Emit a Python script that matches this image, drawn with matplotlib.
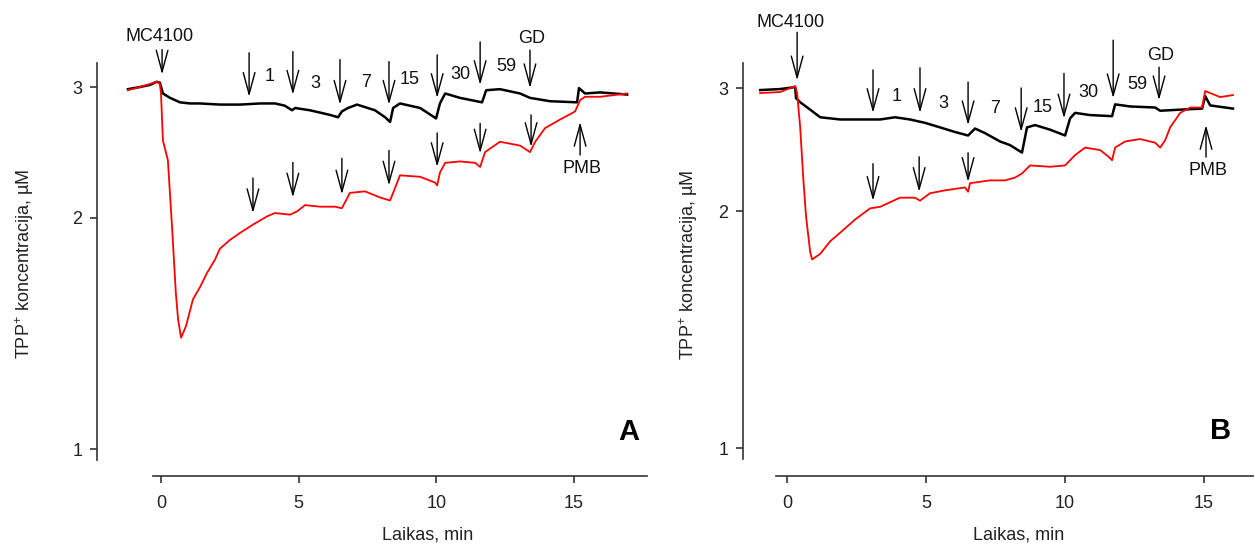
import numpy as np
import matplotlib
matplotlib.use("Agg")
import matplotlib.pyplot as plt
from matplotlib.ticker import FixedLocator, NullLocator

plt.rcParams['font.family'] = ['Liberation Sans', 'DejaVu Sans']
plt.rcParams['mathtext.fontset'] = 'custom'
plt.rcParams['mathtext.rm'] = 'Liberation Sans'
plt.rcParams['mathtext.it'] = 'Liberation Sans'

# ---------------- data: panel A ----------------
a_black_t = [-1.20, -0.76, -0.40, -0.15, -0.04, 0.07, 0.33, 0.69, 1.05, 1.42, 2.14, 2.87, 3.60, 4.14,
             4.50, 4.76, 4.87, 5.41, 6.14, 6.43, 6.57, 6.79, 7.12, 7.77, 8.14, 8.32, 8.43, 8.68, 9.41,
             9.99, 10.13, 10.32, 10.86, 11.66, 11.81, 12.31, 13.04, 13.40, 14.13, 15.11, 15.18, 15.40,
             15.95, 16.93]
a_black_v = [2.98, 3.00, 3.02, 3.05, 3.04, 2.94, 2.90, 2.86, 2.85, 2.85, 2.84, 2.84, 2.85, 2.85,
             2.83, 2.79, 2.81, 2.79, 2.75, 2.73, 2.78, 2.81, 2.84, 2.79, 2.73, 2.69, 2.81, 2.85, 2.81,
             2.72, 2.85, 2.94, 2.90, 2.86, 2.97, 2.98, 2.94, 2.90, 2.87, 2.86, 2.99, 2.94,
             2.95, 2.93]
a_red_t = [-1.20, -0.76, -0.15, -0.04, 0.00, 0.07, 0.25, 0.40, 0.54, 0.62, 0.73, 0.91, 1.16, 1.42,
           1.67, 1.96, 2.14, 2.51, 2.87, 3.35, 3.86, 4.14, 4.69, 4.94, 5.23, 5.78, 6.32, 6.57, 6.86,
           7.41, 7.95, 8.32, 8.43, 8.68, 9.41, 9.95, 10.03, 10.13, 10.32, 10.86, 11.41, 11.59, 11.77,
           12.31, 13.04, 13.40, 13.59, 13.95, 14.49, 15.04, 15.22, 15.40, 15.95, 16.93]
a_red_v = [2.97, 3.00, 3.05, 3.03, 2.94, 2.54, 2.39, 1.95, 1.59, 1.47, 1.39, 1.44, 1.56, 1.62,
           1.69, 1.76, 1.82, 1.87, 1.91, 1.96, 2.01, 2.03, 2.02, 2.04, 2.08, 2.07, 2.07, 2.06, 2.16,
           2.17, 2.13, 2.11, 2.16, 2.28, 2.27, 2.23, 2.21, 2.30, 2.37, 2.38, 2.37, 2.34, 2.45,
           2.53, 2.50, 2.45, 2.53, 2.64, 2.71, 2.78, 2.88, 2.91, 2.91, 2.94]

# arrows: (time, tip value, length px)
a_black_arrows_t = [3.20, 4.79, 6.50, 8.28, 10.03, 11.59]
a_black_arrows_v = [2.91, 2.93, 2.84, 2.84, 2.90, 3.02]
a_black_arrows_len = [44, 43, 45, 43, 43, 43]
a_dose_labels = ['1', '3', '7', '15', '30', '59']
a_dose_dx = [21, 22, 26, 21, 23, 26]
a_dose_dy = [20, 11, 22, 25, 23, 18]
a_red_arrows_t = [3.34, 4.79, 6.57, 8.28, 10.03, 11.59, 13.44]
a_red_arrows_v = [2.03, 2.13, 2.15, 2.21, 2.34, 2.44, 2.49]
a_red_arrows_len = [35, 35, 36, 35, 34, 30, 32]
a_mc = (0.04, 3.12, 25)
a_gd = (13.40, 2.99, 38)
a_pmb = (15.22, 2.69, 33)

# ---------------- data: panel B ----------------
b_black_t = [-0.97, -0.25, 0.29, 0.32, 0.47, 0.83, 1.19, 1.91, 2.63, 3.35, 3.88, 4.42, 4.96, 5.50,
             6.04, 6.51, 6.76, 7.12, 7.66, 8.02, 8.45, 8.63, 8.92, 9.46, 10.00, 10.18, 10.36, 10.90,
             11.69, 11.80, 12.34, 13.24, 13.42, 14.14, 14.93, 15.04, 15.22, 15.76, 16.04]
b_black_v = [2.98, 2.99, 3.01, 2.90, 2.86, 2.79, 2.72, 2.70, 2.70, 2.70, 2.72, 2.70, 2.67, 2.63,
             2.59, 2.56, 2.62, 2.58, 2.51, 2.48, 2.42, 2.63, 2.65, 2.61, 2.56, 2.71, 2.76, 2.74,
             2.73, 2.84, 2.82, 2.81, 2.78, 2.79, 2.80, 2.92, 2.83, 2.81, 2.80]
b_red_t = [-0.97, -0.25, 0.29, 0.36, 0.47, 0.58, 0.68, 0.83, 0.90, 1.19, 1.55, 1.91, 2.45, 2.99,
           3.35, 3.71, 4.06, 4.60, 4.78, 5.14, 5.68, 6.40, 6.51, 6.58, 7.30, 7.84, 8.20, 8.45, 8.74,
           9.46, 10.00, 10.36, 10.72, 11.26, 11.55, 11.69, 11.80, 12.16, 12.70, 13.24, 13.42, 13.60,
           13.78, 14.14, 14.50, 14.93, 15.04, 15.22, 15.58, 16.04]
b_red_v = [2.95, 2.96, 3.02, 2.95, 2.63, 2.23, 1.97, 1.76, 1.72, 1.75, 1.82, 1.87, 1.95, 2.02,
           2.03, 2.06, 2.09, 2.09, 2.07, 2.12, 2.14, 2.16, 2.13, 2.19, 2.21, 2.21, 2.23, 2.26, 2.32,
           2.31, 2.32, 2.40, 2.46, 2.44, 2.39, 2.36, 2.46, 2.51, 2.53, 2.50, 2.46, 2.52,
           2.63, 2.76, 2.81, 2.81, 2.97, 2.95, 2.91, 2.93]

b_black_arrows_t = [3.09, 4.78, 6.51, 8.42, 9.96, 11.73]
b_black_arrows_v = [2.76, 2.76, 2.65, 2.59, 2.71, 2.90]
b_black_arrows_len = [43, 45, 43, 44, 45, 58]
b_dose_labels = ['1', '3', '7', '15', '30', '59']
b_dose_dx = [24, 23, 27, 21, 24, 24]
b_dose_dy = [16, 9, 17, 24, 26, 14]
b_red_arrows_t = [3.09, 4.75, 6.51]
b_red_arrows_v = [2.07, 2.13, 2.20]
b_red_arrows_len = [37, 35, 29]
b_mc = (0.36, 3.08, 48)
b_gd = (13.38, 2.88, 33)
b_pmb = (15.07, 2.65, 32)

y_ticks = [1, 2, 3]
x_ticks = [0, 5, 10, 15]

W, H = 1255, 545
PX = 72.0 / 100.0  # px -> points
FS = 13
SPINE_C = '#333333'

fig = plt.figure(figsize=(W / 100, H / 100), dpi=100)


def make_axes(left, right, top, bottom, c, xlim, ylim, off_left, off_bottom):
    ax = fig.add_axes([left / W, 1 - bottom / H, (right - left) / W, (bottom - top) / H])
    ax.set_yscale('function', functions=(lambda v: np.log10(np.clip(np.asarray(v) - c, 1e-6, None)),
                                         lambda u: 10 ** np.asarray(u) + c))
    ax.set_xlim(*xlim)
    ax.set_ylim(*ylim)
    for s in ['top', 'right']:
        ax.spines[s].set_visible(False)
    ax.spines['left'].set_position(('outward', off_left * PX))
    ax.spines['bottom'].set_position(('outward', off_bottom * PX))
    for s in ['left', 'bottom']:
        ax.spines[s].set_linewidth(1.2)
        ax.spines[s].set_color(SPINE_C)
    ax.yaxis.set_major_locator(FixedLocator(y_ticks))
    ax.yaxis.set_minor_locator(NullLocator())
    ax.set_yticklabels([str(v) for v in y_ticks])
    ax.set_xticks(x_ticks)
    ax.set_xticklabels([str(v) for v in x_ticks])
    ax.tick_params(axis='both', direction='out', length=5, width=1.2, color=SPINE_C,
                   labelsize=FS, labelcolor='#222222')
    ax.tick_params(axis='x', pad=8.5)
    ax.tick_params(axis='y', pad=5.5)
    ax.patch.set_alpha(0)
    return ax


ARROW = dict(arrowstyle='->,head_length=1.55,head_width=0.42', lw=1.0, color='black',
             shrinkA=0, shrinkB=0)


def arrow(ax, t, v, length, up=False):
    dy = -length if up else length
    ax.annotate('', xy=(t, v), xytext=(0, dy * PX), textcoords='offset points',
                arrowprops=ARROW, annotation_clip=False)


def label(ax, t, v, s, dx, dy, **kw):
    ax.annotate(s, xy=(t, v), xytext=(dx * PX, dy * PX), textcoords='offset points',
                ha='center', va='center', fontsize=FS, annotation_clip=False, color='#111111', **kw)


def draw_panel(ax, bt, bv, rt, rv, ba_t, ba_v, ba_len, doses, ddx, ddy, ra_t, ra_v, ra_len,
               mc, gd, pmb, mc_dy, gd_dy, pmb_dy, mc_dx):
    ax.plot(bt, bv, color='black', lw=1.8, clip_on=False)
    ax.plot(rt, rv, color='#ff0000', lw=1.3, clip_on=False)
    for t, v, L, s, dx, dy in zip(ba_t, ba_v, ba_len, doses, ddx, ddy):
        arrow(ax, t, v, L)
        label(ax, t, v, s, dx, dy)
    for t, v, L in zip(ra_t, ra_v, ra_len):
        arrow(ax, t, v, L)
    arrow(ax, mc[0], mc[1], mc[2])
    label(ax, mc[0], mc[1], 'MC4100', mc_dx, mc_dy)
    arrow(ax, gd[0], gd[1], gd[2])
    label(ax, gd[0], gd[1], 'GD', 2, gd_dy)
    arrow(ax, pmb[0], pmb[1], pmb[2], up=True)
    label(ax, pmb[0], pmb[1], 'PMB', 2, pmb_dy)


axA = make_axes(153, 647, 63, 460, 0.1, (-0.29, 17.65), (0.969, 3.234), 56, 16)
draw_panel(axA, a_black_t, a_black_v, a_red_t, a_red_v,
           a_black_arrows_t, a_black_arrows_v, a_black_arrows_len, a_dose_labels, a_dose_dx, a_dose_dy,
           a_red_arrows_t, a_red_arrows_v, a_red_arrows_len, a_mc, a_gd, a_pmb,
           mc_dy=38, gd_dy=50, pmb_dy=-46, mc_dx=-3)

axB = make_axes(776, 1253, 63, 459, 0.3, (-0.40, 16.76), (0.972, 3.266), 33, 17)
draw_panel(axB, b_black_t, b_black_v, b_red_t, b_red_v,
           b_black_arrows_t, b_black_arrows_v, b_black_arrows_len, b_dose_labels, b_dose_dx, b_dose_dy,
           b_red_arrows_t, b_red_arrows_v, b_red_arrows_len, b_mc, b_gd, b_pmb,
           mc_dy=58, gd_dy=45, pmb_dy=-45, mc_dx=-7)

ylab = 'TPP$^{+}$ koncentracija, µM'
fig.text(25 / W, 1 - 264 / H, ylab, rotation=90, ha='center', va='center', fontsize=FS, color='#222222')
fig.text(689 / W, 1 - 265 / H, ylab, rotation=90, ha='center', va='center', fontsize=FS, color='#222222')
fig.text(428 / W, 1 - 535 / H, 'Laikas, min', ha='center', va='center', fontsize=FS, color='#222222')
fig.text(1019 / W, 1 - 535 / H, 'Laikas, min', ha='center', va='center', fontsize=FS, color='#222222')
fig.text(629 / W, 1 - 432 / H, 'A', ha='center', va='center', fontsize=21, fontweight='bold')
fig.text(1221 / W, 1 - 431 / H, 'B', ha='center', va='center', fontsize=21, fontweight='bold')

fig.savefig('out.png', dpi=100)
